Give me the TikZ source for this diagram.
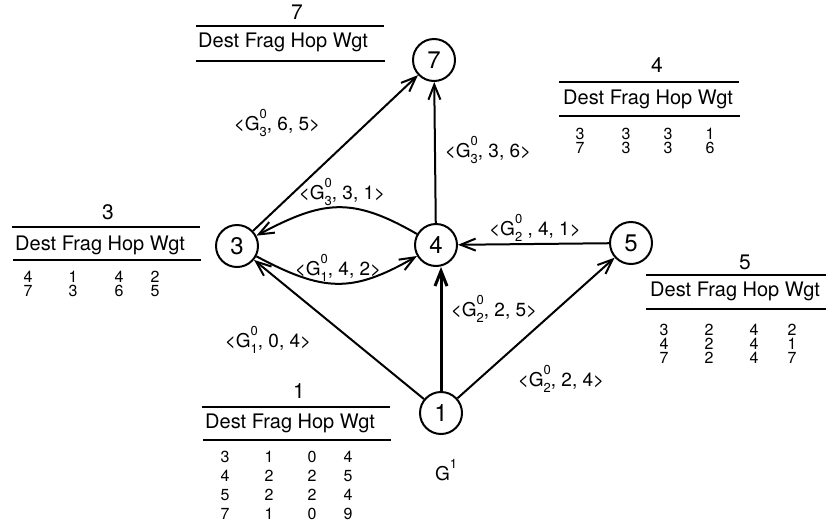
\documentclass[tikz,border=0pt]{standalone}
\usepackage{fontspec}
\setmainfont{TeX Gyre Heros}
\usetikzlibrary{arrows.meta}
\newcommand\GG[2]{G\rlap{\raisebox{0.6em}{\fontsize{13}{13}\selectfont #2}}\raisebox{-0.32em}{\fontsize{13}{13}\selectfont #1}}
\tikzset{
  vtx/.style={circle, draw, line width=2pt, minimum size=42pt, inner sep=0pt, font=\fontsize{24}{24}\selectfont},
  edge/.style={line width=2pt, -{Straight Barb[length=15pt,width=12pt]}},
  elab/.style={font=\fontsize{19}{19}\selectfont, inner sep=0pt},
  ttl/.style={font=\fontsize{21}{21}\selectfont, inner sep=0pt},
  hdr/.style={font=\fontsize{20}{20}\selectfont, inner sep=0pt, anchor=west},
  cell/.style={font=\fontsize{16}{#1}\selectfont, align=center, anchor=north, inner sep=0pt},
  tabrule/.style={line width=2.8pt},
}
\begin{document}
\begin{tikzpicture}[x=1pt,y=-1pt]
\useasboundingbox (0,0) rectangle (826,528);
% vertices
\node[vtx] (n7) at (434,60) {7};
\node[vtx] (n3) at (237,246) {3};
\node[vtx] (n4) at (436,245) {4};
\node[vtx] (n5) at (631,243) {5};
\node[vtx] (n1) at (441,413) {1};
\coordinate (p14) at (n1 |- n4.south);
% edges
\draw[edge] (n3) -- (n7);
\draw[edge] (n4) -- (n7);
\draw[edge] (n4) to[out=150,in=28,looseness=1.2] (n3);
\draw[edge] (n3) to[out=-28,in=-150,looseness=1.2] (n4);
\draw[edge] (n5) -- (n4);
\draw[edge,line width=3pt] (n1) -- (p14);
\draw[edge] (n1) -- (n3);
\draw[edge] (n1) -- (n5);
% edge labels
\node[elab] (l37) at (277,123) {<\GG{3}{0}, 6, 5>};
\node[elab] (l47) at (488,150) {<\GG{3}{0}, 3, 6>};
\node[elab] (l43) at (342,192) {<\GG{3}{0}, 3, 1>};
\node[elab] (l34) at (338,268) {<\GG{1}{0}, 4, 2>};
\node[elab] (l54) at (535,228) {<\GG{2}{0} , 4, 1>};
\node[elab] (l14) at (494,309) {<\GG{2}{0}, 2, 5>};
\node[elab] (l13) at (268,340) {<\GG{1}{0}, 0, 4>};
\node[elab] (l15) at (561,379) {<\GG{2}{0}, 2, 4>};
\node[elab] (g1) at (446,470) {G\raisebox{0.6em}{\fontsize{13}{13}\selectfont 1}};
% table 7
\node[ttl] (t7) at (297,12) {7};
\draw[tabrule] (196,26) -- (384,26);
\node[hdr] (h7) at (198,42) {Dest Frag Hop Wgt};
\draw[tabrule] (196,61) -- (385,61);
% table 4
\node[ttl] (t4) at (657,65) {4};
\draw[tabrule] (559,82) -- (739,82);
\node[hdr] (h4) at (563,99) {Dest Frag Hop Wgt};
\draw[tabrule] (559,116) -- (740,116);
\node[cell=13.5] (c4a) at (580,128) {3\\7};
\node[cell=13.5] (c4b) at (626,128) {3\\3};
\node[cell=13.5] (c4c) at (668,128) {3\\3};
\node[cell=13.5] (c4d) at (710,128) {1\\6};
% table 3
\node[ttl] (t3) at (108,212) {3};
\draw[tabrule] (12,227) -- (200,227);
\node[hdr] (h3) at (15,245) {Dest Frag Hop Wgt};
\draw[tabrule] (13,260) -- (201,260);
\node[cell=13.5] (c3a) at (28,271) {4\\7};
\node[cell=13.5] (c3b) at (73,271) {1\\3};
\node[cell=13.5] (c3c) at (119,271) {4\\6};
\node[cell=13.5] (c3d) at (155,271) {2\\5};
% table 5
\node[ttl] (t5) at (745,262) {5};
\draw[tabrule] (646,275) -- (826,275);
\node[hdr] (h5) at (650,291) {Dest Frag Hop Wgt};
\draw[tabrule] (646,309) -- (826,309);
\node[cell=14] (c5a) at (664,323.5) {3\\4\\7};
\node[cell=14] (c5b) at (709,323.5) {2\\2\\2};
\node[cell=14] (c5c) at (754,323.5) {4\\4\\4};
\node[cell=14] (c5d) at (792,323.5) {2\\1\\7};
% table 1
\node[ttl] (t1) at (299,391) {1};
\draw[tabrule] (202,407) -- (390,407);
\node[hdr] (h1) at (205,423) {Dest Frag Hop Wgt};
\draw[tabrule] (203,440) -- (391,440);
\node[cell=19] (c1a) at (225,450.5) {3\\4\\5\\7};
\node[cell=19] (c1b) at (269,450.5) {1\\2\\2\\1};
\node[cell=19] (c1c) at (312,450.5) {0\\2\\2\\0};
\node[cell=19] (c1d) at (348,450.5) {4\\5\\4\\9};
\end{tikzpicture}
\end{document}
